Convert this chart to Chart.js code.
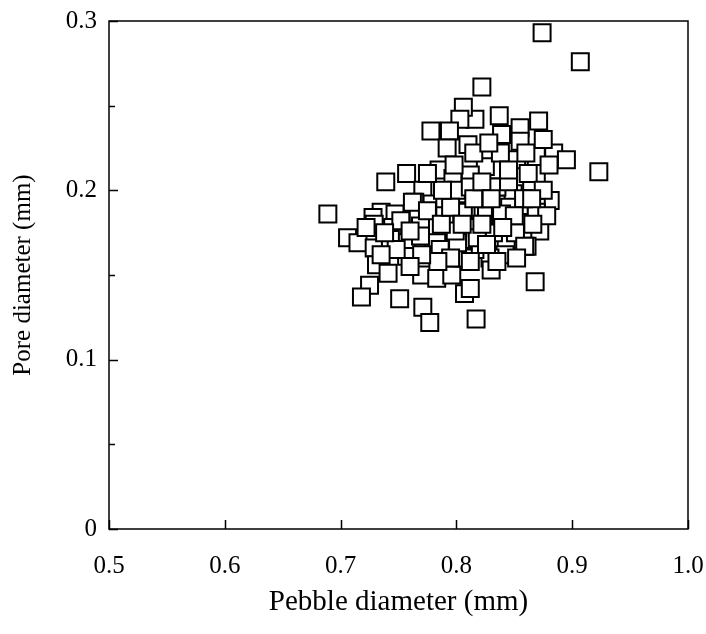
<!DOCTYPE html>
<html>
<head>
<meta charset="utf-8">
<script src="https://cdn.jsdelivr.net/npm/chart.js@4/dist/chart.umd.min.js"></script>
<style>
  html, body { margin: 0; padding: 0; background: #fff; }
  #wrap { width: 706px; height: 634px; }
</style>
</head>
<body>
<div id="wrap"><canvas id="js_pebble_chart" width="706" height="634"></canvas></div>
<script>
// values (mm)
const pebbleDiameter = [
  0.874, 0.907, 0.822, 0.923, 0.837, 0.871, 0.855, 0.839, 0.884, 0.895,
  0.816, 0.806, 0.881, 0.869, 0.865, 0.855, 0.869, 0.852, 0.834, 0.825,
  0.812, 0.809, 0.823, 0.810, 0.838, 0.849, 0.846, 0.869, 0.803, 0.778,
  0.794, 0.792, 0.757, 0.739, 0.785, 0.797, 0.771, 0.764, 0.779, 0.790,
  0.800, 0.689, 0.735, 0.747, 0.728, 0.767, 0.806, 0.706, 0.715, 0.729,
  0.729, 0.745, 0.757, 0.769, 0.780, 0.790, 0.792, 0.803, 0.803, 0.731,
  0.741, 0.757, 0.770, 0.783, 0.796, 0.725, 0.718, 0.751, 0.771, 0.777,
  0.807, 0.817, 0.868, 0.812, 0.872, 0.861, 0.843, 0.842, 0.829, 0.830,
  0.816, 0.817, 0.806, 0.806, 0.859, 0.851, 0.832, 0.826, 0.869, 0.838,
  0.743, 0.812, 0.835, 0.762, 0.839, 0.818, 0.859, 0.818, 0.801, 0.783,
  0.769, 0.799, 0.786, 0.752, 0.760, 0.775, 0.787, 0.795, 0.815, 0.822,
  0.830, 0.845, 0.858, 0.862, 0.875, 0.878, 0.866, 0.850, 0.840, 0.826,
  0.812, 0.795, 0.784, 0.770, 0.760, 0.748, 0.738, 0.722, 0.735, 0.798,
  0.815, 0.828, 0.845, 0.860, 0.875, 0.880, 0.835, 0.852, 0.865, 0.788,
  0.775, 0.805, 0.822
]
const poreDiameter = [
  0.293, 0.276, 0.261, 0.211, 0.244, 0.241, 0.237, 0.233, 0.222, 0.218,
  0.242, 0.249, 0.194, 0.190, 0.200, 0.229, 0.210, 0.218, 0.202, 0.214,
  0.209, 0.198, 0.190, 0.227, 0.222, 0.198, 0.190, 0.220, 0.242, 0.235,
  0.235, 0.225, 0.210, 0.205, 0.212, 0.207, 0.200, 0.193, 0.192, 0.194,
  0.200, 0.186, 0.187, 0.186, 0.184, 0.185, 0.187, 0.172, 0.169, 0.180,
  0.166, 0.178, 0.169, 0.179, 0.168, 0.185, 0.174, 0.169, 0.161, 0.156,
  0.151, 0.161, 0.150, 0.148, 0.150, 0.144, 0.137, 0.136, 0.131, 0.122,
  0.139, 0.124, 0.146, 0.142, 0.176, 0.167, 0.169, 0.162, 0.160, 0.153,
  0.165, 0.173, 0.171, 0.160, 0.181, 0.175, 0.175, 0.185, 0.187, 0.185,
  0.171, 0.202, 0.202, 0.193, 0.186, 0.178, 0.167, 0.172, 0.169, 0.169,
  0.173, 0.176, 0.165, 0.182, 0.176, 0.188, 0.180, 0.190, 0.195, 0.205,
  0.195, 0.205, 0.195, 0.210, 0.200, 0.185, 0.180, 0.185, 0.178, 0.168,
  0.158, 0.160, 0.158, 0.162, 0.155, 0.165, 0.175, 0.178, 0.162, 0.215,
  0.222, 0.228, 0.212, 0.222, 0.230, 0.215, 0.158, 0.160, 0.195, 0.200,
  0.210, 0.180, 0.180
]
const xTickLabels = ['0.5', '0.6', '0.7', '0.8', '0.9', '1.0']
const yTickLabels = ['0', '0.1', '0.2', '0.3']   // minor ticks every 0.05 in between

const points = pebbleDiameter.map((x, i) => ({x: x, y: poreDiameter[i]}))

// box around the plot and ticks pointing inwards, like the original
const frameTicks = {
  id: 'frameTicks',
  afterDraw(chart) {
    const {ctx, chartArea: a, scales} = chart
    ctx.save()
    ctx.strokeStyle = '#000'
    ctx.lineWidth = 1.5
    ctx.strokeRect(a.left, a.top, a.right - a.left, a.bottom - a.top)
    ctx.beginPath()
    scales.x.ticks.forEach(t => {
      const px = Math.round(scales.x.getPixelForValue(t.value)) + 0.5
      ctx.moveTo(px, a.bottom)
      ctx.lineTo(px, a.bottom - 9)
    })
    scales.y.ticks.forEach((t, i) => {
      const py = Math.round(scales.y.getPixelForValue(t.value)) + 0.5
      const len = i % 2 === 0 ? 9 : 6
      ctx.moveTo(a.left, py)
      ctx.lineTo(a.left + len, py)
    })
    ctx.stroke()
    ctx.restore()
  }
}

function pebbleChart() {
  const data = {
    datasets: [
      {
        label: 'Pore vs pebble diameter',
        data: points,
        pointStyle: 'rect',
        pointRadius: 12,
        pointHoverRadius: 12,
        borderColor: '#000',
        backgroundColor: '#fff',
        borderWidth: 2,
        showLine: false,
      }
    ]
  }

  const options = {
    responsive: false,
    animation: false,
    layout: {padding: {left: 0, top: 21, right: 18, bottom: 0}},
    plugins: {
      legend: {display: false},
      tooltip: {enabled: false},
    },
    scales: {
      x: {
        type: 'linear',
        min: 0.5,
        max: 1.0,
        grid: {display: false, drawTicks: false},
        border: {display: false},
        ticks: {
          stepSize: 0.1,
          padding: 22,
          color: '#000',
          font: {family: 'Liberation Serif', size: 25},
          callback: (v, i) => xTickLabels[i],
        },
        title: {
          display: true,
          text: 'Pebble diameter (mm)',
          color: '#000',
          font: {family: 'Liberation Serif', size: 29},
          padding: {top: 0, bottom: 14},
        },
        afterFit: s => {
          s.height = 105
          s.paddingLeft = 0
          s.paddingRight = 0
        },
      },
      y: {
        type: 'linear',
        min: 0,
        max: 0.3,
        grid: {display: false, drawTicks: false},
        border: {display: false},
        ticks: {
          stepSize: 0.05,
          padding: 12,
          color: '#000',
          font: {family: 'Liberation Serif', size: 25},
          callback: (v, i) => i % 2 === 0 ? yTickLabels[i / 2] : '',
        },
        title: {
          display: true,
          text: 'Pore diameter (mm)',
          color: '#000',
          font: {family: 'Liberation Serif', size: 25},
          padding: {top: 8, bottom: 0},
        },
        afterFit: s => {
          s.width = 109
          s.paddingTop = 0
          s.paddingBottom = 0
        },
      }
    }
  }

  const ctx = document.getElementById('js_pebble_chart').getContext('2d')
  new Chart(ctx, {type: 'scatter', data, options, plugins: [frameTicks]})
}

pebbleChart()
</script>
</body>
</html>
